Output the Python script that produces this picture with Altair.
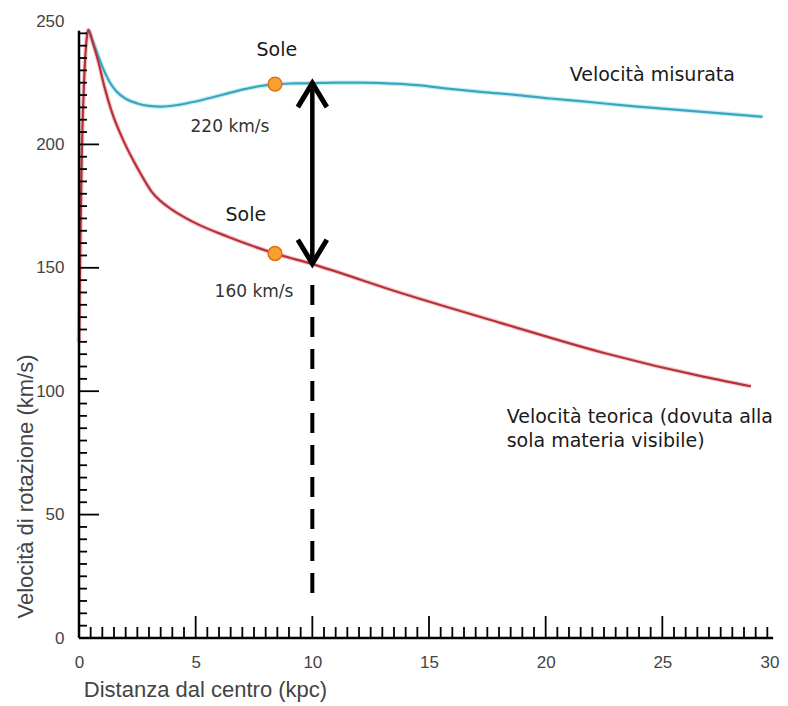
import altair as alt
import pandas as pd

# ---- data ----
blue_x = [0.4, 0.7, 1.0, 1.3, 1.6, 2.0, 2.5, 3.0, 3.5, 4.24, 4.95, 5.7, 6.38, 7.1, 7.81, 8.4,
          9.2, 10.0, 11.0, 12.0, 13.0, 14.5, 15.9, 17.3, 18.8, 20.2, 21.5, 23.7, 26.6, 29.3]
blue_v = [246.4, 239.0, 231.5, 225.5, 221.5, 218.5, 216.6, 215.6, 215.3, 216.0, 217.3, 219.0, 220.7, 222.4, 223.7, 224.4,
          224.7, 224.8, 225.0, 225.0, 224.8, 224.0, 222.5, 221.2, 220.0, 218.6, 217.5, 215.5, 213.3, 211.2]

red_x = [0.0, 0.06, 0.12, 0.22, 0.33, 0.4, 0.6, 0.81, 1.1, 1.38, 1.96, 2.53, 2.8, 3.1, 3.5, 3.95, 4.95,
         6.38, 8.4, 10.0, 13.8, 18.1, 22.5, 26.8, 28.8]
red_v = [120.0, 162.0, 196.0, 226.0, 243.0, 246.4, 241.0, 234.2, 223.0, 213.9, 200.4, 190.0, 185.5, 181.0, 177.0, 173.8, 168.3,
         162.6, 155.8, 151.5, 139.8, 127.6, 115.5, 105.8, 102.0]

sun_x = [8.4, 8.4]
sun_v = [224.4, 155.8]

arrow_x = 10.0
arrow_top = 224.8
arrow_bottom = 151.7
dash_top = 143.0
dash_bottom = 14.0

x_labels = [0, 5, 10, 15, 20, 25, 30]
y_labels = [0, 50, 100, 150, 200, 250]
x_major = [5, 10, 15, 20, 25]
x_minor = [i * 0.5 for i in range(1, 60) if (i * 0.5) % 5 != 0]
y_major = [50, 100, 150, 200]
y_minor = [v for v in range(5, 250, 5) if v % 50 != 0]
x_axis_end = 29.75
y_axis_end = 246.0

ann_text = ["Sole", "Sole", "220 km/s", "160 km/s"]
ann_x = [8.48, 7.15, 6.47, 7.5]
ann_y = [238.2, 171.4, 207.0, 140.2]
ann_kind = ["sole", "sole", "kms", "kms"]

lab_text = ["Velocità misurata", "Velocità teorica (dovuta alla", "sola materia visibile)"]
lab_x = [21.03, 18.33, 18.33]
lab_y = [228.1, 89.5, 79.8]

# ---- tables ----
blue_df = pd.DataFrame({"x": blue_x, "v": blue_v})
red_df = pd.DataFrame({"x": red_x, "v": red_v})
sun_df = pd.DataFrame({"x": sun_x, "v": sun_v})
ann_df = pd.DataFrame({"t": ann_text, "x": ann_x, "v": ann_y, "k": ann_kind})
lab_df = pd.DataFrame({"t": lab_text, "x": lab_x, "v": lab_y})

W, H = 700, 617
xs = alt.Scale(domain=[0, 30], nice=False, zero=False)
ys = alt.Scale(domain=[0, 250], nice=False, zero=False)

x_axis = alt.Axis(values=x_labels, title="Distanza dal centro (kpc)", domain=False, ticks=False,
                  tickSize=0, grid=False, labelFont="Liberation Sans", labelFontSize=17,
                  labelColor="#444", labelPadding=16, labelFlush=False, labelOverlap=False,
                  labelAlign={"condition": {"test": "datum.value == 30", "value": "right"}, "value": "center"},
                  titleFont="Liberation Sans", titleFontSize=22, titleFontWeight="normal",
                  titleColor="#444", titleX=126, titleY=51, titleAlign="center",
                  titleBaseline="middle")
y_axis = alt.Axis(values=y_labels, title="Velocità di rotazione (km/s)", domain=False, ticks=False,
                  tickSize=0, grid=False, labelFont="Liberation Sans", labelFontSize=17,
                  labelColor="#444", labelPadding=15, labelOverlap=False,
                  titleFont="Liberation Sans", titleFontSize=22, titleFontWeight="normal",
                  titleColor="#444", titleX=-54, titleY=465, titleAngle=-90, titleAlign="center",
                  titleBaseline="middle")

X = lambda f="x": alt.X(f + ":Q", scale=xs, axis=x_axis)
Y = lambda f="v": alt.Y(f + ":Q", scale=ys, axis=y_axis)

# axis lines
x_line = alt.Chart(pd.DataFrame({"a": [0], "b": [x_axis_end], "v": [0]})).mark_rule(
    color="black", strokeWidth=2.5).encode(x=X("a"), x2="b:Q", y=Y("v"))
y_line = alt.Chart(pd.DataFrame({"x": [0], "a": [0], "b": [y_axis_end]})).mark_rule(
    color="black", strokeWidth=2.5).encode(x=X("x"), y=Y("a"), y2="b:Q")

# ticks (inside the plot)
xt_minor = alt.Chart(pd.DataFrame({"x": x_minor})).mark_rule(color="black", strokeWidth=1.8).encode(
    x=X("x"), y=alt.value(H), y2=alt.value(H - 11))
xt_major = alt.Chart(pd.DataFrame({"x": x_major})).mark_rule(color="black", strokeWidth=1.8).encode(
    x=X("x"), y=alt.value(H), y2=alt.value(H - 22))
yt_minor = alt.Chart(pd.DataFrame({"v": y_minor})).mark_rule(color="black", strokeWidth=1.8).encode(
    y=Y("v"), x=alt.value(0), x2=alt.value(8))
yt_major = alt.Chart(pd.DataFrame({"v": y_major})).mark_rule(color="black", strokeWidth=1.8).encode(
    y=Y("v"), x=alt.value(0), x2=alt.value(20))

# curves
blue_halo = alt.Chart(blue_df).mark_line(color="#9FE3F0", strokeWidth=4.5, interpolate="monotone",
                                         opacity=0.6).encode(x=X(), y=Y())
red_halo = alt.Chart(red_df).mark_line(color="#F2A8AE", strokeWidth=4.5, interpolate="monotone",
                                       opacity=0.6).encode(x=X(), y=Y())
blue_line = alt.Chart(blue_df).mark_line(color="#3AA6BD", strokeWidth=2.2,
                                         interpolate="monotone").encode(x=X(), y=Y())
red_line = alt.Chart(red_df).mark_line(color="#B5323C", strokeWidth=2.2,
                                       interpolate="monotone").encode(x=X(), y=Y())

# double arrow and dashed line
shaft = alt.Chart(pd.DataFrame({"x": [arrow_x], "a": [arrow_top - 1], "b": [arrow_bottom + 1]})).mark_rule(
    color="black", strokeWidth=4.5).encode(x=X("x"), y=Y("a"), y2="b:Q")
head_up = alt.Chart(pd.DataFrame({"x": [arrow_x], "v": [arrow_top]})).mark_point(
    shape="M -1 1.65 L 0 0 L 1 1.65", filled=False, stroke="black", strokeWidth=5,
    size=841, opacity=1).encode(x=X(), y=Y())
head_down = alt.Chart(pd.DataFrame({"x": [arrow_x], "v": [arrow_bottom]})).mark_point(
    shape="M -1 -1.65 L 0 0 L 1 -1.65", filled=False, stroke="black", strokeWidth=5,
    size=841, opacity=1).encode(x=X(), y=Y())
dashed = alt.Chart(pd.DataFrame({"x": [arrow_x], "a": [dash_top], "b": [dash_bottom]})).mark_rule(
    color="black", strokeWidth=4, strokeDash=[20, 12]).encode(x=X("x"), y=Y("a"), y2="b:Q")

# sun markers
suns = alt.Chart(sun_df).mark_point(shape="circle", filled=True, fill="#F7A030", stroke="#E0701A",
                                    strokeWidth=1.5, size=190, opacity=1).encode(x=X(), y=Y())

# annotations
sole_txt = alt.Chart(ann_df[ann_df.k == "sole"]).mark_text(
    font="DejaVu Sans", fontSize=19, color="#1a1a1a", align="center", baseline="middle").encode(
    x=X(), y=Y(), text="t:N")
kms_txt = alt.Chart(ann_df[ann_df.k == "kms"]).mark_text(
    font="DejaVu Sans", fontSize=17, color="#333", align="center", baseline="middle").encode(
    x=X(), y=Y(), text="t:N")
lab_txt = alt.Chart(lab_df).mark_text(
    font="DejaVu Sans", fontSize=19, color="#1a1a1a", align="left", baseline="middle").encode(
    x=X(), y=Y(), text="t:N")

chart = alt.layer(
    blue_halo, red_halo, blue_line, red_line,
    xt_minor, xt_major, yt_minor, yt_major, x_line, y_line,
    dashed, shaft, head_up, head_down, suns,
    sole_txt, kms_txt, lab_txt
).properties(
    width=W, height=H,
    autosize=alt.AutoSizeParams(type="none"),
    padding={"left": 71, "top": 13, "right": 1, "bottom": 68},
    background="white"
).configure_view(stroke=None)

chart.save("out.html", embed_options={"renderer": "svg", "actions": False})
